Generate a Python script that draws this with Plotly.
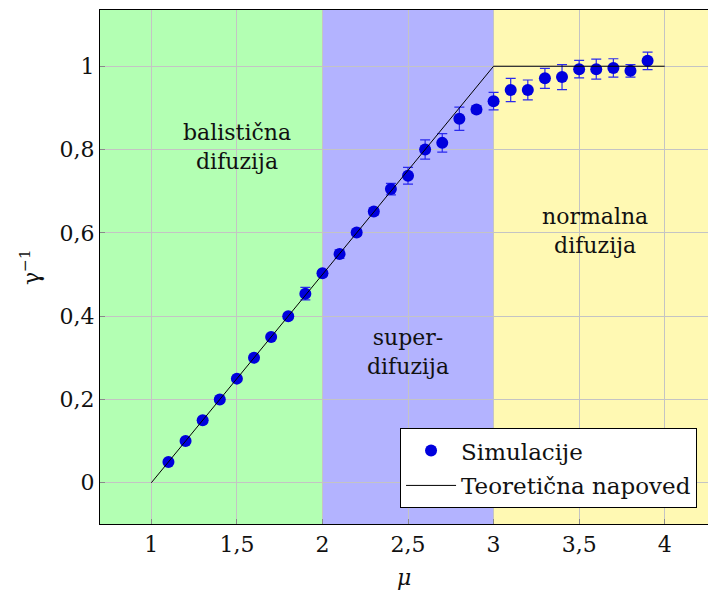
import plotly.graph_objects as go

# data
mu = [1.1, 1.2, 1.3, 1.4, 1.5, 1.6, 1.7, 1.8, 1.9, 2.0,
      2.1, 2.2, 2.3, 2.4, 2.5, 2.6, 2.7, 2.8, 2.9, 3.0,
      3.1, 3.2, 3.3, 3.4, 3.5, 3.6, 3.7, 3.8, 3.9]
gamma_inv = [0.05, 0.10, 0.15, 0.20, 0.25, 0.30, 0.35, 0.40, 0.454, 0.503,
             0.549, 0.601, 0.651, 0.705, 0.737, 0.80, 0.816, 0.874, 0.896, 0.916,
             0.943, 0.943, 0.971, 0.974, 0.993, 0.993, 0.996, 0.989, 1.013]
gamma_err = [0.004, 0.004, 0.004, 0.004, 0.004, 0.004, 0.004, 0.005, 0.015, 0.005,
             0.010, 0.006, 0.008, 0.014, 0.020, 0.023, 0.022, 0.028, 0.008, 0.021,
             0.028, 0.024, 0.024, 0.030, 0.021, 0.024, 0.022, 0.015, 0.021]
theory_mu = [1, 3, 4]
theory_gamma = [0, 1, 1]

regions = [(0.7, 2.0, "#b3ffb3"), (2.0, 3.0, "#b3b3ff"), (3.0, 4.3, "#fff9b3")]
region_labels = ["balistična<br>difuzija", "super-<br>difuzija", "normalna<br>difuzija"]
label_x = [1.5, 2.5, 3.59]
label_y = [0.806, 0.314, 0.605]

xticks = [1, 1.5, 2, 2.5, 3, 3.5, 4]
yticks = [0, 0.2, 0.4, 0.6, 0.8, 1]

FONT = "DejaVu Serif"
TXT = "#111111"

fig = go.Figure()
fig.add_trace(go.Scatter(
    x=mu, y=gamma_inv, mode="markers", name="Simulacije", legendgroup="a",
    marker=dict(color="#0000dd", size=12),
    error_y=dict(type="data", array=gamma_err, visible=True,
                 color="#2a2aee", thickness=1.2, width=5),
))
fig.add_trace(go.Scatter(
    x=theory_mu, y=theory_gamma, mode="lines", name="Teoretična napoved", legendgroup="b",
    line=dict(color="black", width=1),
))

for x0, x1, c in regions:
    fig.add_shape(type="rect", xref="x", yref="paper", x0=x0, x1=x1, y0=0, y1=1,
                  fillcolor=c, line=dict(width=0), layer="below")

for t, x, y in zip(region_labels, label_x, label_y):
    fig.add_annotation(x=x, y=y, xref="x", yref="y", text=t, showarrow=False,
                       font=dict(family=FONT, size=22, color=TXT))

# axis titles
fig.add_annotation(x=0.5, y=-0.105, xref="paper", yref="paper", text="<i>μ</i>",
                   showarrow=False, xanchor="center", yanchor="middle",
                   font=dict(family=FONT, size=22, color=TXT))
fig.add_annotation(x=-0.115, y=0.5, xref="paper", yref="paper", text="γ<sup>−1</sup>",
                   showarrow=False, xanchor="center", yanchor="middle", textangle=-90,
                   font=dict(family=FONT, size=22, color=TXT))

fig.update_layout(
    width=708, height=590,
    margin=dict(l=100, r=0, t=10, b=66, autoexpand=False),
    paper_bgcolor="white", plot_bgcolor="white",
    separators=",.",
    font=dict(family=FONT, size=22, color=TXT),
    showlegend=True,
    legend=dict(x=0.982, y=0.031, xanchor="right", yanchor="bottom",
                bgcolor="white", bordercolor="black", borderwidth=1,
                font=dict(family=FONT, size=23, color=TXT),
                itemwidth=50, tracegroupgap=2, traceorder="grouped"),
)
fig.update_xaxes(
    range=[0.7, 4.253], tickvals=xticks, ticks="inside", ticklen=5,
    tickcolor="#8a8a8a", showgrid=True, gridcolor="#c4c4c4", gridwidth=1,
    showline=True, linecolor="black", linewidth=1.2, mirror=True,
    zeroline=False, tickformat=",.1~f", automargin=False,
)
fig.update_yaxes(
    range=[-0.099, 1.135], tickvals=yticks, ticks="inside", ticklen=5,
    tickcolor="#8a8a8a", showgrid=True, gridcolor="#c4c4c4", gridwidth=1,
    showline=True, linecolor="black", linewidth=1.2, mirror=False,
    zeroline=False, tickformat=".1~f", automargin=False,
)

fig.write_html(
    "out.html",
    config={"displayModeBar": False},
    post_script="document.body.style.margin='0';"
                "document.body.style.overflow='hidden';"
                "document.documentElement.style.overflow='hidden';",
)
